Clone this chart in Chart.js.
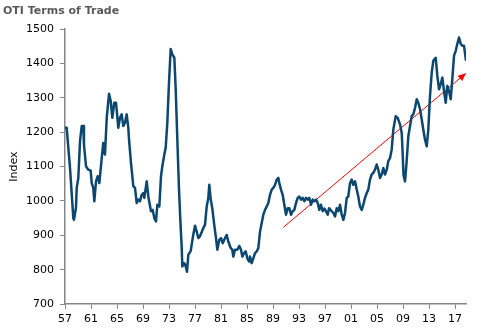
<!DOCTYPE html>
<html>
<head>
<meta charset="utf-8">
<script src="https://cdn.jsdelivr.net/npm/chart.js@4"></script>
<style>
  html, body { margin: 0; padding: 0; background: #fff; }
  #wrap { width: 481px; height: 332px; }
</style>
</head>
<body>
<div id="wrap"><canvas id="totChart" width="481" height="332"></canvas></div>
<script>
// decimal years
const years = [
  1957.00, 1957.26, 1957.77, 1958.28, 1958.38, 1958.69, 1958.80, 1959.05, 1959.31, 1959.57,
  1959.82, 1959.92, 1960.23, 1960.58, 1960.95, 1961.11, 1961.35, 1961.51, 1961.77, 1962.03,
  1962.28, 1962.65, 1962.89, 1963.15, 1963.42, 1963.77, 1964.03, 1964.28, 1964.58, 1964.85,
  1965.20, 1965.46, 1965.72, 1965.97, 1966.23, 1966.49, 1966.74, 1966.85, 1967.15, 1967.51,
  1967.77, 1968.03, 1968.28, 1968.54, 1968.80, 1969.05, 1969.20, 1969.57, 1969.82, 1970.23,
  1970.49, 1970.74, 1971.00, 1971.20, 1971.51, 1971.77, 1971.97, 1972.28, 1972.49, 1972.74,
  1973.00, 1973.26, 1973.51, 1973.82, 1974.03, 1974.28, 1974.54, 1974.74, 1974.95, 1975.05,
  1975.31, 1975.51, 1975.77, 1975.97, 1976.34, 1976.69, 1977.00, 1977.26, 1977.51, 1977.77,
  1978.28, 1978.54, 1978.80, 1979.05, 1979.20, 1979.42, 1979.66, 1979.92, 1980.23, 1980.43,
  1980.74, 1981.00, 1981.26, 1981.62, 1981.88, 1982.12, 1982.49, 1982.74, 1982.89, 1983.15,
  1983.51, 1983.82, 1984.08, 1984.28, 1984.54, 1984.80, 1985.05, 1985.31, 1985.46, 1985.72,
  1985.97, 1986.23, 1986.49, 1986.74, 1987.00, 1987.23, 1987.51, 1987.77, 1988.03, 1988.28,
  1988.54, 1988.80, 1989.05, 1989.31, 1989.57, 1989.82, 1989.97, 1990.23, 1990.49, 1990.74,
  1991.00, 1991.26, 1991.51, 1991.77, 1992.03, 1992.28, 1992.54, 1992.80, 1993.05, 1993.31,
  1993.57, 1993.82, 1994.08, 1994.34, 1994.58, 1994.85, 1995.11, 1995.35, 1995.62, 1995.88,
  1996.12, 1996.38, 1996.65, 1996.89, 1997.15, 1997.42, 1997.62, 1998.03, 1998.28, 1998.54,
  1998.80, 1999.05, 1999.31, 1999.57, 1999.82, 2000.08, 2000.34, 2000.58, 2000.85, 2001.11,
  2001.35, 2001.62, 2001.88, 2002.12, 2002.38, 2002.65, 2002.89, 2003.15, 2003.42, 2003.66,
  2003.92, 2004.18, 2004.43, 2004.69, 2004.95, 2005.20, 2005.46, 2005.72, 2005.97, 2006.23,
  2006.49, 2006.74, 2007.00, 2007.26, 2007.51, 2007.88, 2008.18, 2008.54, 2008.80, 2008.92,
  2009.08, 2009.31, 2009.54, 2009.82, 2010.08, 2010.34, 2010.58, 2010.85, 2011.11, 2011.35,
  2011.62, 2011.88, 2012.12, 2012.38, 2012.65, 2012.89, 2013.15, 2013.42, 2013.66, 2014.03,
  2014.28, 2014.54, 2014.80, 2015.05, 2015.31, 2015.57, 2015.82, 2016.08, 2016.34, 2016.58,
  2016.85, 2017.11, 2017.35, 2017.62, 2017.88, 2018.12, 2018.38, 2018.69
];
const tot = [
  1213, 1213, 1096, 950, 945, 980, 1038, 1067, 1174, 1218,
  1218, 1164, 1101, 1091, 1088, 1052, 1038, 999, 1057, 1072,
  1052, 1125, 1169, 1135, 1242, 1312, 1291, 1242, 1286, 1286,
  1213, 1242, 1252, 1218, 1228, 1252, 1213, 1179, 1111, 1043,
  1038, 994, 1004, 999, 1018, 1023, 1009, 1057, 1013, 970,
  974, 950, 940, 989, 984, 1072, 1101, 1135, 1155, 1228,
  1345, 1442, 1427, 1417, 1325, 1179, 1033, 945, 867, 809,
  819, 814, 794, 843, 855, 897, 928, 911, 892, 897,
  921, 931, 984, 1009, 1047, 1004, 979, 936, 892, 858,
  887, 892, 877, 892, 901, 882, 863, 858, 838, 858,
  858, 869, 858, 838, 848, 853, 833, 824, 838, 819,
  833, 848, 853, 863, 910, 933, 960, 974, 984, 994,
  1018, 1033, 1038, 1047, 1062, 1067, 1052, 1033, 1018, 989,
  960, 979, 979, 960, 970, 974, 994, 1009, 1013, 1004,
  1009, 999, 1009, 1004, 1009, 989, 1004, 999, 1004, 994,
  974, 989, 970, 978, 970, 960, 979, 970, 965, 955,
  979, 970, 989, 960, 945, 965, 1009, 1013, 1052, 1062,
  1047, 1057, 1033, 1013, 984, 974, 989, 1009, 1023, 1033,
  1062, 1077, 1082, 1091, 1106, 1091, 1067, 1077, 1096, 1077,
  1091, 1116, 1125, 1150, 1208, 1247, 1242, 1223, 1198, 1150,
  1075, 1057, 1110, 1189, 1218, 1247, 1252, 1271, 1296, 1286,
  1267, 1237, 1208, 1179, 1159, 1208, 1305, 1374, 1408, 1417,
  1364, 1325, 1340, 1359, 1320, 1286, 1335, 1320, 1296, 1354,
  1423, 1437, 1457, 1476, 1457, 1452, 1452, 1408
];
const tickYears = [1957, 1961, 1965, 1969, 1973, 1977, 1981, 1985, 1989, 1993, 1997, 2001, 2005, 2009, 2013, 2017];
// trend arrow: start and end (year, index)
const trendYears = [1990.58, 2018.69];
const trendVals = [923, 1372];

const axisGrey = '#868686';
const fontFam = '"DejaVu Sans", Verdana, sans-serif';

// draws the red arrowhead at the end of the trend line
const arrowHead = {
    id: 'arrowHead',
    afterDatasetsDraw(chart) {
        const pts = chart.getDatasetMeta(1).data;
        if (pts.length < 2) return;
        const a = pts[0], b = pts[pts.length - 1];
        const ang = Math.atan2(b.y - a.y, b.x - a.x);
        const len = 8, half = 3.5;
        const ctx = chart.ctx;
        ctx.save();
        ctx.translate(b.x, b.y);
        ctx.rotate(ang);
        ctx.beginPath();
        ctx.moveTo(0, 0);
        ctx.lineTo(-len, -half);
        ctx.lineTo(-len, half);
        ctx.closePath();
        ctx.fillStyle = '#ff0000';
        ctx.fill();
        ctx.restore();
    }
};

const ctx = document.getElementById('totChart').getContext('2d');
const totChart = new Chart(ctx, {
    type: 'line',
    data: {
        datasets: [{
            label: 'OTI Terms of Trade',
            data: years.map((y, i) => ({ x: y, y: tot[i] })),
            borderColor: '#0b4770',
            borderWidth: 2.5,
            pointRadius: 0,
            tension: 0,
            borderJoinStyle: 'round'
        }, {
            label: 'Trend',
            data: trendYears.map((y, i) => ({ x: y, y: trendVals[i] })),
            borderColor: '#ff0000',
            borderWidth: 1,
            pointRadius: 0,
            clip: false
        }]
    },
    options: {
        responsive: false,
        animation: false,
        layout: { padding: { left: 3, right: 15, top: 0, bottom: 0 } },
        plugins: {
            legend: { display: false },
            tooltip: { enabled: false },
            title: {
                display: true,
                text: 'OTI Terms of Trade',
                align: 'start',
                color: '#595959',
                font: { family: fontFam, size: 11, weight: 'bold' },
                padding: { top: 5, bottom: 11 }
            }
        },
        scales: {
            x: {
                type: 'linear',
                min: 1957,
                max: 2018.69,
                afterBuildTicks: (scale) => {
                    scale.ticks = tickYears.map(v => ({ value: v }));
                },
                afterFit: (scale) => { scale.height = 28; },
                ticks: {
                    color: '#000',
                    font: { family: fontFam, size: 11 },
                    padding: 4,
                    maxRotation: 0,
                    autoSkip: false,
                    callback: (v) => String(v % 100).padStart(2, '0')
                },
                grid: { display: true, drawOnChartArea: false, drawTicks: true, tickLength: 5, color: axisGrey },
                border: { display: true, color: axisGrey, width: 1.5 }
            },
            y: {
                min: 700,
                max: 1500,
                afterFit: (scale) => { scale.width = 62; },
                ticks: {
                    stepSize: 100,
                    color: '#000',
                    font: { family: fontFam, size: 11 },
                    padding: 6,
                    callback: (v) => String(v)
                },
                title: {
                    display: true,
                    text: 'Index',
                    color: '#000',
                    font: { family: fontFam, size: 11 },
                    padding: { top: 5, bottom: 0 }
                },
                grid: { display: true, drawOnChartArea: false, drawTicks: true, tickLength: 5, color: axisGrey },
                border: { display: true, color: axisGrey, width: 1.5 }
            }
        }
    },
    plugins: [arrowHead]
});
</script>
</body>
</html>
